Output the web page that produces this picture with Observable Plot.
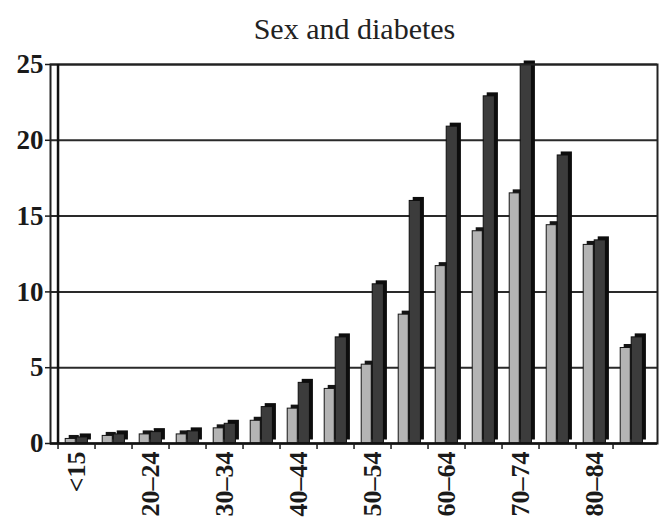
<!DOCTYPE html>
<html><head><meta charset="utf-8">
<script src="https://cdn.jsdelivr.net/npm/d3@7"></script>
<script src="https://cdn.jsdelivr.net/npm/@observablehq/plot@0.6"></script>
<style>
body{margin:0;background:#fff;}
#title{width:659px;height:50px;box-sizing:border-box;padding-top:13px;padding-left:50px;text-align:center;font-family:"Liberation Serif",serif;font-size:30px;line-height:32px;color:#222;}
</style>
</head><body>
<div id="title">Sex and diabetes</div>
<div id="chart"></div>
<script>
const ageGroups = ["<15","15–19","20–24","25–29","30–34","35–39","40–44","45–49","50–54","55–59","60–64","65–69","70–74","75–79","80–84","85+"];
const lightSeries = [0.3,0.5,0.6,0.6,1.0,1.5,2.3,3.6,5.2,8.5,11.7,14.0,16.5,14.4,13.1,6.3];
const darkSeries  = [0.4,0.6,0.75,0.8,1.3,2.4,4.0,7.0,10.5,16.0,20.9,22.9,25.0,19.0,13.4,7.0];
const yTicks = [0,5,10,15,20,25];
const shownLabels = ["<15","20–24","30–34","40–44","50–54","60–64","70–74","80–84"];

const lightData = ageGroups.map((a,i)=>({age:a, value:lightSeries[i]}));
const darkData  = ageGroups.map((a,i)=>({age:a, value:darkSeries[i]}));

const W = 659, H = 473, mL = 50, mR = 2, mT = 14, mB = 80;
const bw = (W - mL - mR) / ageGroups.length;
const depth = 3.5;

const chart = Plot.plot({
  width: W, height: H,
  marginLeft: mL, marginRight: mR, marginTop: mT, marginBottom: mB,
  style: {fontFamily: "Liberation Serif, serif", color: "#1a1a1a", background: "#fff"},
  x: {domain: ageGroups, padding: 0, axis: null, label: null},
  y: {domain: [0, 25], axis: null, label: null},
  marks: [
    Plot.ruleY(yTicks.filter(d => d > 0), {stroke: "#2a2a2a", strokeWidth: 2}),
    // light series (3D shadow + front)
    Plot.barY(lightData, {x: "age", y: "value", fill: "#151515", dx: depth, dy: -depth, insetLeft: bw*0.19, insetRight: bw*0.52}),
    Plot.barY(lightData, {x: "age", y: "value", fill: "#b4b4b4", stroke: "#151515", strokeWidth: 1, insetLeft: bw*0.19, insetRight: bw*0.52}),
    // dark series
    Plot.barY(darkData, {x: "age", y: "value", fill: "#0d0d0d", dx: depth, dy: -depth, insetLeft: bw*0.48, insetRight: bw*0.2}),
    Plot.barY(darkData, {x: "age", y: "value", fill: "#3c3c3c", stroke: "#0d0d0d", strokeWidth: 1, insetLeft: bw*0.48, insetRight: bw*0.2}),
    Plot.frame({stroke: "#222", strokeWidth: 2}),
    Plot.ruleY([0], {stroke: "#111", strokeWidth: 2.5}),
    Plot.ruleX([ageGroups[0]], {dx: -bw/2, stroke: "#111", strokeWidth: 2.5}),
    Plot.axisY({ticks: yTicks, tickSize: 5, tickPadding: 2, fontSize: 27, fontWeight: "bold", strokeWidth: 1.5, label: null}),
    Plot.axisX({ticks: ageGroups, tickSize: 6, tickFormat: () => "", dx: -bw/2, strokeWidth: 1.5, label: null}),
    Plot.axisX({ticks: ageGroups, tickSize: 0, tickPadding: 8, tickRotate: -90, fontSize: 26, fontWeight: "bold", label: null,
      tickFormat: d => shownLabels.includes(d) ? d : ""})
  ]
});
document.getElementById("chart").appendChild(chart);
</script>
</body></html>
